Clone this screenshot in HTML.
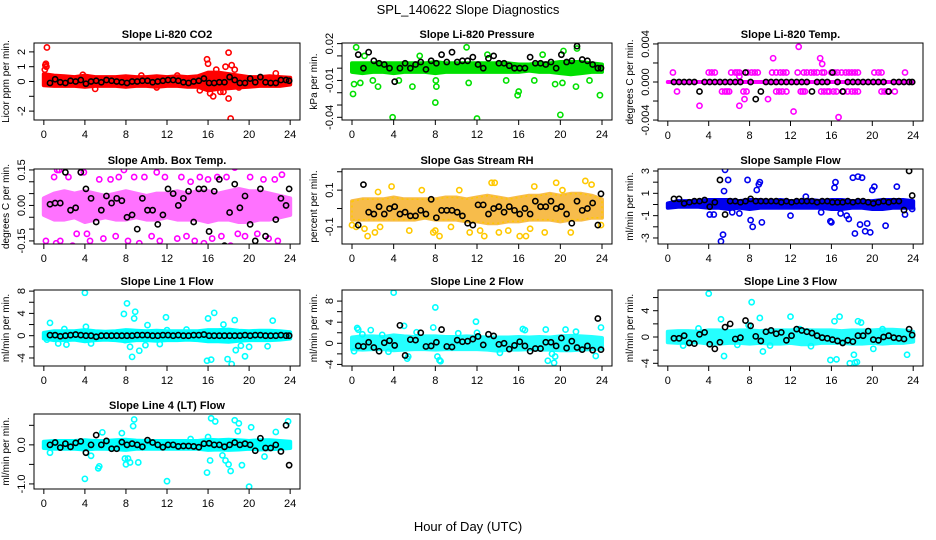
<!DOCTYPE html>
<html><head><meta charset="utf-8"><style>
html,body{margin:0;padding:0;background:#fff;}
svg{display:block;font-family:"Liberation Sans",Arial,sans-serif;}
</style></head><body>
<svg id="c" width="936" height="540" viewBox="0 0 936 540">
<text x="468" y="14" text-anchor="middle" font-size="13">SPL_140622  Slope Diagnostics</text>
<text x="468" y="531" text-anchor="middle" font-size="13">Hour of Day (UTC)</text>
</svg>
<script>
// ---- shared data ----
const bandHours=[0,1,2,3,4,5,6,7,8,9,10,11,12,13,14,15,16,17,18,19,20,21,22,23,24];
const blackHours=[0.6,1.1,1.6,2.1,2.6,3.1,3.6,4.1,4.6,5.1,5.6,6.1,6.6,7.1,7.6,8.1,8.6,9.1,9.6,10.1,10.6,11.1,11.6,12.1,12.6,13.1,13.6,14.1,14.6,15.1,15.6,16.1,16.6,17.1,17.6,18.1,18.6,19.1,19.6,20.1,20.6,21.1,21.6,22.1,22.6,23.1,23.6,23.9];
const xTicks=[0,4,8,12,16,20,24];

// CO2
const co2Hi=[0.5,0.4,0.35,0.3,0.4,0.3,0.3,0.3,0.35,0.3,0.3,0.35,0.3,0.35,0.3,0.35,0.6,0.6,0.5,0.4,0.3,0.3,0.35,0.3,0.25];
const co2Lo=[-0.25,-0.3,-0.3,-0.3,-0.35,-0.3,-0.3,-0.3,-0.35,-0.3,-0.3,-0.35,-0.3,-0.3,-0.35,-0.35,-0.6,-0.5,-0.45,-0.4,-0.35,-0.3,-0.3,-0.3,-0.2];
const co2OutX=[0.1,0.2,0.3,0.25,3.8,5,9.5,11,13,15.2,15.9,16,16.2,16.5,16.8,17.2,17.5,17.7,18,18,18.2,18.3,18.6,19,22.6,0.15];
const co2OutY=[0.8,1.2,2.3,1.0,0.45,-0.5,0.4,-0.4,0.4,-0.6,1.5,1.2,-0.8,-1.0,0.8,-0.7,-0.7,1.0,1.95,-1.15,-2.5,1.1,0.8,-0.4,0.55,1.1];
const co2Black=[-0.1,0.15,-0.05,-0.1,0.05,0.0,0.1,-0.15,0.0,0.05,-0.05,0.1,0.05,0.0,-0.05,-0.1,0.0,0.0,0.05,0.05,-0.05,0.0,0.05,0.1,0.1,0.05,-0.05,-0.1,0.0,0.05,0.2,-0.1,-0.1,-0.05,-0.05,0.3,0.1,-0.1,-0.1,0.2,-0.05,0.3,-0.05,-0.1,-0.1,0.1,0.1,0.05];

// Pressure
const presHi=[0.004,0.004,0.004,0.004,0.004,0.004,0.004,0.004,0.005,0.004,0.004,0.004,0.004,0.004,0.004,0.004,0.003,0.003,0.004,0.004,0.005,0.005,0.005,0.004,0.003];
const presLo=[-0.003,-0.004,-0.003,-0.003,-0.004,-0.003,-0.003,-0.003,-0.004,-0.003,-0.003,-0.003,-0.003,-0.003,-0.003,-0.003,-0.003,-0.002,-0.003,-0.003,-0.004,-0.005,-0.004,-0.003,-0.003];
const presOutX=[0.1,0.2,0.4,0.8,2,2.5,3.9,4.5,5.8,8,8.1,8.05,11,11.2,12,14.8,15.9,16,18.3,19.5,20,20.2,20.3,21.5,22.8,23.8,21.6,1.2,6.5,13,17.5];
const presOutY=[-0.021,-0.013,0.017,-0.012,-0.01,-0.015,-0.04,-0.01,-0.015,-0.028,-0.015,-0.01,0.017,-0.012,-0.041,-0.01,-0.022,-0.019,0.011,-0.013,-0.038,-0.012,0.014,-0.015,-0.01,-0.022,0.016,0.01,0.01,0.011,-0.01];
const presBlack=[0.011,0.0,0.013,0.006,0.004,0.003,0.0,-0.011,0.0,0.004,0.0,0.003,0.005,-0.001,0.006,0.004,0.011,0.005,0.013,0.005,0.006,0.006,0.009,0.003,0.0,0.008,0.01,0.004,0.004,0.002,0.0,0.0,0.0,0.009,0.004,0.004,0.003,0.005,0.0,0.011,0.005,0.006,0.018,0.007,0.006,0.003,0.0,0.0];

// Li-820 Temp
const tempHi=[0,0,0,0,0,0,0,0,0,0,0,0,0,0,0,0,0,0,0,0,0,0,0,0,0];
const tempLo=[0,0,0,0,0,0,0,0,0,0,0,0,0,0,0,0,0,0,0,0,0,0,0,0,0];
const tempOutX=[0.5,4,4.3,4.6,6.2,6.6,6.8,7,7.8,8.2,8.5,8.8,10.2,10.6,11,11.3,11.6,12.7,13.3,13.6,14,14.3,14.6,15.1,15.3,16,16.3,16.6,17,17.4,17.7,18,18.3,18.6,20.2,20.6,20.9,23.2,0.9,5.3,5.6,5.8,6.0,7.4,7.7,10.6,10.9,11.2,11.6,13,13.2,13.4,15,15.3,15.6,15.8,16.2,16.5,17.2,17.6,18,18.3,18.6,20.9,21.2,21.5,22.2,3.1,7,7,7.5,9.8,10.3,12.3,12.8,14.9,15.1,16.7];
const tempOutY=[0.001,0.001,0.001,0.001,0.001,0.001,0.001,0.001,0.001,0.001,0.001,0.001,0.001,0.001,0.001,0.001,0.001,0.001,0.001,0.001,0.001,0.001,0.001,0.001,0.001,0.001,0.001,0.001,0.001,0.001,0.001,0.001,0.001,0.001,0.001,0.001,0.001,0.001,-0.001,-0.001,-0.001,-0.001,-0.001,-0.001,-0.001,-0.001,-0.001,-0.001,-0.001,-0.001,-0.001,-0.001,-0.001,-0.001,-0.001,-0.001,-0.001,-0.001,-0.001,-0.001,-0.001,-0.001,-0.001,-0.001,-0.001,-0.001,-0.001,-0.0025,-0.0025,0.0006,-0.0018,-0.0018,0.0025,-0.0031,0.0037,0.0025,0.0019,-0.0037];
const tempBlack=[0,0,0,0,0,-0.001,0,0,0,0,0,0,0,0,0.001,0,-0.0018,-0.001,0,0,0,0,0,0,0,0,0,-0.001,0,0,0,0.001,0,-0.001,0,0,0,0,0,0,0,0,-0.001,0,0,0,0,0];

// Amb Box Temp
const ambHi=[0.03,0.05,0.06,0.05,0.06,0.05,0.04,0.05,0.06,0.05,0.04,0.05,0.05,0.06,0.05,0.06,0.06,0.05,0.06,0.07,0.06,0.06,0.05,0.04,0.03];
const ambLo=[-0.04,-0.06,-0.06,-0.05,-0.07,-0.06,-0.05,-0.06,-0.06,-0.05,-0.06,-0.06,-0.05,-0.06,-0.06,-0.06,-0.07,-0.06,-0.06,-0.07,-0.07,-0.06,-0.06,-0.05,-0.04];
const ambOutX=[0.2,0.8,1.0,1.2,1.5,1.6,2.4,2.8,3.2,3.6,4.2,4.5,5.0,5.4,5.8,6.5,7.0,7.3,7.8,8.2,8.8,9.3,9.8,10.5,11.0,11.3,11.8,12.7,13.0,13.4,13.9,14.3,14.7,15.2,15.6,16.0,16.4,16.9,17.3,17.8,18.2,18.6,18.9,19.3,19.6,20.1,20.8,21.4,21.9,22.5,22.8,23.2,1.3,3.9,12.6,19.3];
const ambOutY=[-0.15,-0.18,0.12,-0.16,0.15,-0.15,0.12,-0.17,-0.12,0.14,-0.12,-0.15,-0.18,0.11,-0.14,0.11,-0.13,0.12,0.15,-0.15,0.12,-0.16,0.12,-0.13,0.14,-0.15,0.12,-0.19,-0.14,0.12,-0.13,0.1,-0.15,0.12,-0.16,0.11,-0.14,0.12,-0.13,0.12,-0.17,0.16,-0.12,0.18,-0.13,0.12,-0.12,0.11,-0.14,0.11,-0.15,0.13,0.15,0.14,-0.19,0.19];
const ambBlack=[0.005,0.01,0.01,0.14,-0.02,-0.01,0.14,0.07,0.03,-0.07,-0.02,0.04,0.01,0.03,0.02,-0.05,-0.04,-0.1,0.03,-0.02,-0.02,-0.08,-0.04,0.07,0.05,0.0,0.03,0.06,-0.07,0.07,0.07,-0.11,0.06,0.11,-0.17,-0.03,0.09,-0.01,0.04,-0.08,-0.15,0.07,-0.13,-0.18,-0.06,0.03,0.0,0.07];

// Gas Stream RH
const rhHi=[0.04,0.05,0.05,0.05,0.06,0.05,0.05,0.05,0.05,0.06,0.06,0.05,0.06,0.07,0.06,0.05,0.06,0.07,0.07,0.08,0.07,0.08,0.08,0.07,0.05];
const rhLo=[-0.06,-0.06,-0.06,-0.06,-0.06,-0.06,-0.06,-0.05,-0.06,-0.06,-0.06,-0.07,-0.07,-0.08,-0.08,-0.07,-0.07,-0.06,-0.06,-0.06,-0.07,-0.06,-0.06,-0.05,-0.05];
const rhOutX=[0.0,0.4,1.2,1.5,2.2,2.7,3.8,5.5,6.7,7.8,8.4,9.5,10.3,11.3,12.3,12.7,13.7,14.1,15.0,16.1,16.7,17.1,17.5,18.5,19.6,20.2,21.0,22.4,23.0,23.9,2.5,8.0,13.4];
const rhOutY=[-0.09,-0.1,-0.11,-0.15,-0.13,-0.1,0.12,-0.12,0.1,-0.13,-0.15,-0.1,0.1,-0.13,-0.12,-0.15,0.14,-0.13,-0.12,-0.15,-0.15,-0.11,0.12,-0.13,0.14,0.1,-0.13,0.15,0.13,-0.09,0.09,-0.12,0.14];
const rhBlack=[-0.09,0.13,-0.02,-0.03,0.01,-0.03,0.0,0.01,-0.03,-0.02,-0.04,-0.04,-0.01,-0.03,0.05,-0.05,-0.01,-0.01,-0.01,-0.02,-0.04,-0.08,-0.09,0.02,0.02,-0.03,0.0,0.01,-0.02,0.01,-0.01,-0.03,0.0,-0.03,0.04,0.01,0.01,0.04,0.0,0.01,-0.03,-0.08,0.04,-0.01,0.0,0.03,-0.09,0.08];

// Sample Flow
const sfHi=[0.1,0.3,0.3,0.3,0.4,0.4,0.4,0.3,0.4,0.4,0.3,0.4,0.3,0.3,0.4,0.3,0.4,0.4,0.3,0.3,0.3,0.4,0.4,0.4,0.3];
const sfLo=[-0.3,-0.2,-0.2,-0.2,-0.3,-0.3,-0.4,-0.3,-0.4,-0.3,-0.3,-0.3,-0.3,-0.3,-0.3,-0.3,-0.4,-0.4,-0.3,-0.3,-0.4,-0.4,-0.3,-0.3,-0.3];
const sfOutX=[5.2,5.4,5.6,5.5,5.9,7.8,8.1,8.3,8.7,8.9,9.0,9.2,4.1,4.5,12.0,15.9,16.0,16.3,16.4,16.9,17.5,17.7,18.1,18.3,18.6,18.8,19.0,19.3,19.5,19.8,20.0,20.2,21.3,22.4,23.2,23.9,6.3,7.0,13.5,15.0];
const sfOutY=[-3.3,-2.7,3.1,1.2,2.2,2.2,-1.4,-2.0,1.3,1.8,2.0,-1.6,-0.9,-0.9,-1.0,-1.5,-1.6,1.5,2.0,-0.8,-1.0,-1.3,2.4,-2.6,2.5,-1.8,2.4,-2.4,-1.7,-2.5,1.3,1.6,-1.9,1.6,-0.9,-0.4,-0.7,-0.8,0.7,-0.7];
const sfBlack=[0.5,0.5,0.1,0.2,0.3,0.3,0.4,-0.2,0.2,2.2,-0.9,0.3,0.3,0.2,0.3,0.5,0.3,0.3,0.3,0.3,0.3,0.2,0.3,0.2,0.3,0.3,0.3,0.3,0.2,0.3,0.3,0.2,0.2,0.2,0.3,0.2,0.3,0.3,0.2,0.1,0.2,0.3,0.2,0.3,0.3,-0.5,3.0,0.8];

// Line 1 Flow
const l1Hi=[0.5,0.8,0.8,0.8,1.0,0.8,0.7,0.8,1.0,0.9,0.8,0.9,0.8,0.8,0.8,0.8,1.0,1.0,1.1,0.9,0.8,0.9,0.9,0.8,0.6];
const l1Lo=[-0.5,-0.8,-0.8,-0.7,-1.0,-0.8,-0.7,-0.8,-1.0,-0.8,-0.8,-0.9,-0.8,-0.8,-0.7,-0.8,-1.0,-1.0,-1.1,-0.9,-0.8,-0.8,-0.8,-0.7,-0.5];
const l1OutX=[0.3,0.6,1.4,2.2,4.0,4.1,4.6,7.8,8.1,8.4,8.6,8.8,8.9,7.9,9.3,9.9,10.1,11.9,12.0,15.9,16.0,16.3,16.6,17.5,17.9,18.3,18.6,18.7,19.2,19.6,20.0,21.8,22.3,11.3,13.9,2.0];
const l1OutY=[-0.7,2.3,-1.4,-1.6,7.7,1.6,-1.4,3.9,5.8,-2.0,-3.8,3.1,4.3,-0.8,-2.7,-1.7,1.9,3.3,1.0,-4.5,3.1,-4.3,4.1,2.0,-4.2,-5.1,2.8,-2.6,-1.8,-3.7,-2.0,-1.9,2.7,-1.5,1.1,1.2];
const l1Black=[0.1,0.1,-0.1,0.0,0.1,0.2,0.1,0.0,0.0,-0.2,0.0,0.0,0.0,0.0,0.0,0.0,0.0,0.1,0.1,0.1,0.0,0.0,0.1,0.1,0.0,0.1,0.0,0.0,0.1,0.1,0.2,0.0,0.0,0.0,0.0,0.0,0.0,0.0,0.1,0.0,0.1,0.1,0.0,0.0,0.0,0.1,0.0,0.0];

// Line 2 Flow
const l2Hi=[1.1,1.3,1.3,1.2,1.5,1.3,1.2,1.3,1.3,1.2,1.2,1.3,1.2,1.1,1.1,1.1,1.2,1.1,1.2,1.1,1.3,1.4,1.3,1.2,1.0];
const l2Lo=[-1.1,-1.2,-1.1,-1.1,-1.3,-1.2,-1.1,-1.1,-1.2,-1.1,-1.1,-1.1,-1.1,-1.2,-1.4,-1.2,-1.2,-1.1,-1.2,-1.2,-1.3,-1.3,-1.2,-1.1,-1.0];
const l2OutX=[0.2,0.5,0.6,1.8,4.0,5.0,5.3,5.4,7.8,8.0,8.2,8.4,8.5,11.9,12.0,16.4,16.6,18.6,18.8,19.2,19.4,19.5,23.4,23.9,20.5,2.9,1.0,3.5,6.2,10.2,14.2,21.5];
const l2OutY=[-1.5,2.9,2.6,2.5,9.6,3.3,-2.9,-2.5,3.0,6.8,-2.5,-3.2,-3.4,4.1,2.0,2.7,2.5,2.6,-3.3,-2.0,-3.7,-2.5,-2.4,3.0,2.6,1.6,1.7,-1.6,2.1,1.9,-1.8,2.2];
const l2Black=[-0.5,-0.6,0.2,-0.8,-1.5,0.1,0.5,-0.4,3.4,-2.3,0.7,0.6,2.0,-0.6,-0.5,0.2,2.6,-0.6,-0.7,0.6,0.3,0.4,0.8,1.3,-0.3,1.7,1.4,-0.2,0.0,-1.1,-0.4,0.3,-0.5,-1.5,-1.0,-1.0,0.2,0.2,-0.5,1.0,-0.9,0.4,-0.8,-1.2,-0.5,-1.3,4.7,-1.2];

// Line 3 Flow
const l3Hi=[0.8,0.9,0.9,0.8,1.0,1.0,0.9,1.0,1.0,0.9,1.0,1.0,1.0,1.1,1.0,1.0,1.0,0.9,1.0,1.0,1.0,1.1,1.1,1.0,0.8];
const l3Lo=[-0.8,-0.9,-0.9,-0.8,-1.0,-1.0,-0.9,-0.9,-1.0,-0.9,-1.0,-1.0,-0.9,-1.1,-1.1,-0.9,-0.9,-0.9,-1.0,-1.0,-0.9,-1.0,-0.9,-0.9,-0.7];
const l3OutX=[4.0,5.2,5.5,7.9,8.2,9.0,9.3,12.0,15.9,16.3,16.5,16.8,17.8,18.2,18.3,18.5,18.6,18.9,20.1,23.4,10.0,12.9,1.5,3.0,6.8,14.0,21.0];
const l3OutY=[6.6,2.7,-2.9,1.8,5.3,2.9,-2.2,3.1,-3.5,2.4,-3.4,3.1,-4.0,-2.7,-3.9,-3.8,2.4,2.2,-1.8,-2.7,-1.3,1.2,-1.3,1.3,-1.2,-1.4,1.2];
const l3Black=[-0.2,-0.2,0.2,-0.9,-1.0,0.4,0.7,-1.1,-1.8,-0.8,1.5,2.0,-0.3,-0.1,2.5,1.7,0.1,-0.6,0.8,1.0,0.5,0.7,-0.5,0.2,1.2,1.0,0.8,0.6,0.2,-0.1,-0.2,-0.4,-0.6,-0.9,-0.5,-0.7,0.2,0.2,0.9,-0.4,-0.5,0.0,0.2,-0.1,-0.2,-0.3,1.2,0.3];

// Line 4 (LT) Flow
const l4Hi=[0.08,0.1,0.1,0.1,0.12,0.1,0.1,0.12,0.13,0.11,0.1,0.1,0.1,0.1,0.1,0.1,0.13,0.12,0.13,0.12,0.1,0.12,0.12,0.1,0.08];
const l4Lo=[-0.08,-0.1,-0.1,-0.1,-0.12,-0.1,-0.1,-0.11,-0.13,-0.1,-0.1,-0.1,-0.1,-0.1,-0.1,-0.1,-0.13,-0.12,-0.13,-0.12,-0.1,-0.12,-0.11,-0.1,-0.08];
const l4OutX=[0.6,4.0,4.6,5.3,5.4,5.7,7.6,7.9,8.0,8.2,8.4,8.7,8.8,9.2,12.0,15.9,16.0,16.2,16.3,16.7,17.4,17.7,18.0,18.2,18.6,18.9,19.0,19.3,20.0,20.2,21.5,22.6,23.8,14.3];
const l4OutY=[-0.2,-0.87,-0.28,-0.6,-0.55,0.32,0.3,-0.35,-0.5,-0.35,-0.45,0.48,0.65,-0.45,-0.93,-0.71,0.2,-0.4,0.68,0.6,-0.27,-0.4,-0.5,-0.67,0.63,0.35,0.55,-0.52,-1.07,0.45,-0.3,0.33,0.6,0.15];
const l4Black=[0.0,0.06,-0.07,0.03,-0.05,0.05,0.09,-0.2,0.0,0.25,0.0,0.1,-0.1,-0.1,0.07,0.0,0.03,0.0,-0.05,0.12,0.06,0.0,-0.06,0.0,0.0,-0.04,-0.03,-0.03,-0.04,-0.06,0.03,0.04,0.0,0.0,-0.05,0.0,0.06,0.0,0.03,0.0,-0.15,0.17,-0.08,-0.08,0.0,-0.17,0.5,-0.52];

// ---- panel layout (positions / styles only) ----
const panels=[
 {name:'co2',title:'Slope Li-820 CO2',ylab:'Licor ppm per min.',box:[34,43,300,120],top:2.6,bot:-2.6,ticks:[-2,-1,0,1,2],labs:[2,1,0,-2],fmt:0,col:'#ff0000',op:1,hi:co2Hi,lo:co2Lo,ox:co2OutX,oy:co2OutY,bk:co2Black},
 {name:'pressure',title:'Slope Li-820 Pressure',ylab:'kPa per min.',box:[342,43,612,120],top:0.0205,bot:-0.0422,ticks:[0.02,0.01,0,-0.01,-0.02,-0.03,-0.04],labs:[0.02,-0.01,-0.04],fmt:2,col:'#00e000',op:1,hi:presHi,lo:presLo,ox:presOutX,oy:presOutY,bk:presBlack},
 {name:'li820-temp',title:'Slope Li-820 Temp.',ylab:'degrees C per min.',box:[658,43,923,121],top:0.0041,bot:-0.0041,ticks:[0.004,0.002,0,-0.002,-0.004],labs:[0.004,0,-0.004],fmt:3,col:'#ff00ff',op:1,hi:tempHi,lo:tempLo,ox:tempOutX,oy:tempOutY,bk:tempBlack},
 {name:'amb-box-temp',title:'Slope Amb. Box Temp.',ylab:'degrees C per min.',box:[34,169,300,244],top:0.154,bot:-0.163,ticks:[0.15,0.1,0.05,0,-0.05,-0.1,-0.15],labs:[0.15,0,-0.15],fmt:2,col:'#ff00ff',op:0.55,hi:ambHi,lo:ambLo,ox:ambOutX,oy:ambOutY,bk:ambBlack},
 {name:'gas-stream-rh',title:'Slope Gas Stream RH',ylab:'percent per min.',box:[342,169,612,244],top:0.215,bot:-0.193,ticks:[0.2,0.1,0,-0.1],labs:[0.1,-0.1],fmt:1,col:'#f5a000',op:0.7,ring:'#ffc800',hi:rhHi,lo:rhLo,ox:rhOutX,oy:rhOutY,bk:rhBlack},
 {name:'sample-flow',title:'Slope Sample Flow',ylab:'ml/min per min.',box:[658,169,923,244],top:3.18,bot:-3.54,ticks:[3,2,1,0,-1,-2,-3],labs:[3,1,-1,-3],fmt:0,col:'#0000ee',op:1,hi:sfHi,lo:sfLo,ox:sfOutX,oy:sfOutY,bk:sfBlack},
 {name:'line1-flow',title:'Slope Line 1 Flow',ylab:'ml/min per min.',box:[34,290,300,366],top:8.2,bot:-5.44,ticks:[8,6,4,2,0,-2,-4],labs:[8,4,0,-4],fmt:0,col:'#00ffff',op:1,hi:l1Hi,lo:l1Lo,ox:l1OutX,oy:l1OutY,bk:l1Black},
 {name:'line2-flow',title:'Slope Line 2 Flow',ylab:'ml/min per min.',box:[342,290,612,366],top:10.1,bot:-4.3,ticks:[8,6,4,2,0,-2,-4],labs:[8,4,0,-4],fmt:0,col:'#00ffff',op:0.85,hi:l2Hi,lo:l2Lo,ox:l2OutX,oy:l2OutY,bk:l2Black},
 {name:'line3-flow',title:'Slope Line 3 Flow',ylab:'ml/min per min.',box:[658,290,923,366],top:7.15,bot:-4.41,ticks:[6,4,2,0,-2,-4],labs:[4,0,-4],fmt:0,col:'#00ffff',op:0.85,hi:l3Hi,lo:l3Lo,ox:l3OutX,oy:l3OutY,bk:l3Black},
 {name:'line4-flow',title:'Slope Line 4 (LT) Flow',ylab:'ml/min per min.',box:[34,414,300,489],top:0.79,bot:-1.13,ticks:[0.5,0,-0.5,-1],labs:[0,-1],fmt:1,col:'#00ffff',op:1,hi:l4Hi,lo:l4Lo,ox:l4OutX,oy:l4OutY,bk:l4Black}
];

const NS='http://www.w3.org/2000/svg';
const svg=document.getElementById('c');
function mk(tag,attrs,parent){const e=document.createElementNS(NS,tag);for(const k in attrs)e.setAttribute(k,attrs[k]);parent.appendChild(e);return e;}

panels.forEach(p=>{
  const [L,T,R,B]=p.box;const w=R-L;
  const x0=L+w*0.037,x1=R-w*0.037;
  const sx=h=>x0+(x1-x0)*h/24;
  const sy=v=>T+(p.top-v)/(p.top-p.bot)*(B-T);
  const g=mk('g',{},svg);
  
  
  const clip=mk('clipPath',{id:'cl-'+p.name},g);
  mk('rect',{x:L,y:T,width:w,height:B-T},clip);
  const plot=mk('g',{'clip-path':'url(#cl-'+p.name+')'},g);
  
  
  let d='';
  bandHours.forEach((h,i)=>{d+=(i?'L':'M')+sx(h).toFixed(1)+' '+sy(p.hi[i]).toFixed(1);});
  for(let i=bandHours.length-1;i>=0;i--)d+='L'+sx(bandHours[i]).toFixed(1)+' '+sy(p.lo[i]).toFixed(1);
  d+='Z';
  const band=mk('path',{d:d,fill:p.col,stroke:p.col,'stroke-width':4,'stroke-linejoin':'round',opacity:p.op},plot);
  
  
  if(p.ring){const b2=mk('path',{d:d,fill:'none',stroke:p.ring,'stroke-width':1.5,'stroke-dasharray':'2 3'},plot);
    
    }
  p.ox.forEach((h,i)=>{
    const c=mk('circle',{cx:sx(h),cy:sy(p.oy[i]),r:2.6,fill:'none',stroke:p.ring||p.col,'stroke-width':1.6},plot);
    
    
  });
  blackHours.forEach((h,i)=>{
    const c=mk('circle',{cx:sx(h),cy:sy(p.bk[i]),r:2.6,fill:'none',stroke:'#000','stroke-width':1.6},plot);
    
    
  });
  const bx=mk('rect',{x:L,y:T,width:w,height:B-T,fill:'none',stroke:'#000','stroke-width':1},g);
  
  
  const t=mk('text',{x:(L+R)/2,y:T-5,'text-anchor':'middle','font-size':11,'font-weight':'bold'},g);
  t.textContent=p.title;
  
  
  xTicks.forEach(h=>{
    const ln=mk('line',{x1:sx(h),x2:sx(h),y1:B,y2:B+5,stroke:'#000'},g);
    
    
    const tx=mk('text',{x:sx(h),y:B+18,'text-anchor':'middle','font-size':11},g);
    tx.textContent=h;
    
    
  });
  p.ticks.forEach(v=>{
    const y=sy(v); if(y<T-1||y>B+1)return;
    const ln=mk('line',{x1:L-5,x2:L,y1:y,y2:y,stroke:'#000'},g);
    
    
  });
  p.labs.forEach(v=>{
    const y=sy(v);const xx=L-9;
    const tx=mk('text',{x:xx,y:y,'text-anchor':'middle','font-size':11,transform:'rotate(-90 '+xx+' '+y+')'},g);
    tx.textContent=v.toFixed(p.fmt);
    
    
  });
  const yl=L-25,ym=(T+B)/2;
  const ylab=mk('text',{x:yl,y:ym,'text-anchor':'middle','font-size':10,transform:'rotate(-90 '+yl+' '+ym+')'},g);
  ylab.textContent=p.ylab;
  
  
});
</script>
</body></html>
